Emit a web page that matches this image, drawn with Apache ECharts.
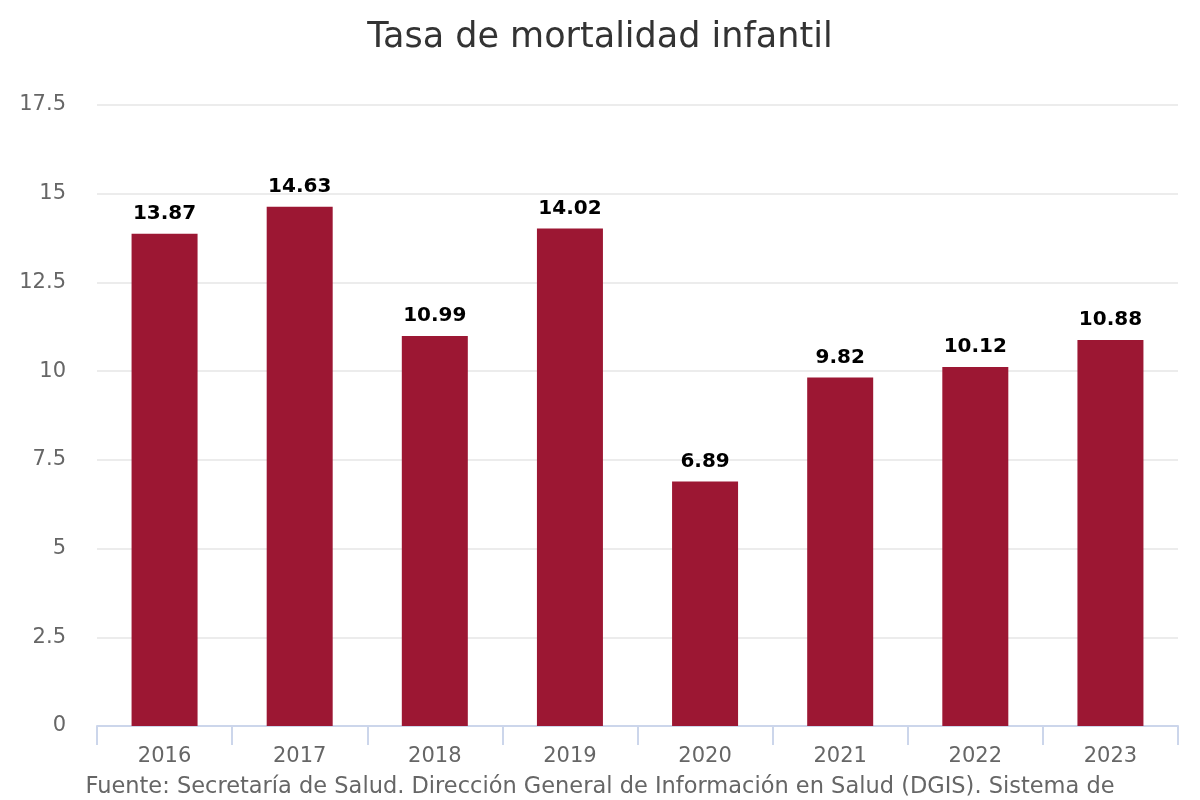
<!DOCTYPE html>
<html>
<head>
<meta charset="utf-8">
<script src="https://cdn.jsdelivr.net/npm/echarts@6/dist/echarts.min.js"></script>
<style>
    html, body { margin: 0; padding: 0; background: #fff; }
    #chart { width: 1200px; height: 800px; }
</style>
</head>
<body>
<div id="chart"></div>
<script>
var years = ['2016', '2017', '2018', '2019', '2020', '2021', '2022', '2023'];
var tasa = [13.87, 14.63, 10.99, 14.02, 6.89, 9.82, 10.12, 10.88];
var yTicks = [0, 2.5, 5, 7.5, 10, 12.5, 15, 17.5];

var mychart = echarts.init(document.getElementById('chart'));
mychart.setOption({
    color: ['#9c1733'],
    textStyle: { fontFamily: 'DejaVu Sans' },
    title: [
        {
            text: 'Tasa de mortalidad infantil',
            left: 'center',
            top: 15,
            textStyle: {
                fontWeight: 'normal',
                fontSize: 35,
                color: '#333'
            }
        },
        {
            text: 'Fuente: Secretaría de Salud. Dirección General de Información en Salud (DGIS). Sistema de',
            left: 'center',
            top: 771,
            textStyle: {
                fontWeight: 'normal',
                fontSize: 22.5,
                color: '#666'
            }
        }
    ],
    grid: {
        left: 97,
        right: 22,
        top: 105,
        bottom: 74
    },
    xAxis: {
        type: 'category',
        data: years,
        axisLine: { lineStyle: { color: '#ccd6eb', width: 2 } },
        axisTick: { show: true, length: 19, lineStyle: { color: '#ccd6eb', width: 2 } },
        axisLabel: { fontSize: 21, color: '#666', margin: 20 }
    },
    yAxis: {
        type: 'value',
        min: yTicks[0],
        max: yTicks[yTicks.length - 1],
        interval: 2.5,
        axisLine: { show: false },
        axisTick: { show: false },
        splitLine: { lineStyle: { color: '#e6e6e6', width: 1.5 } },
        axisLabel: { fontSize: 21, color: '#666', margin: 31 }
    },
    series: [
        {
            name: 'Tasa',
            type: 'bar',
            data: tasa,
            barWidth: 66,
            label: {
                show: true,
                position: 'top',
                distance: 10,
                fontSize: 20,
                fontWeight: 'bold',
                color: '#000',
                textBorderColor: '#fff',
                textBorderWidth: 2,
                formatter: function (p) { return p.value.toFixed(2); }
            }
        }
    ]
});
</script>
</body>
</html>
